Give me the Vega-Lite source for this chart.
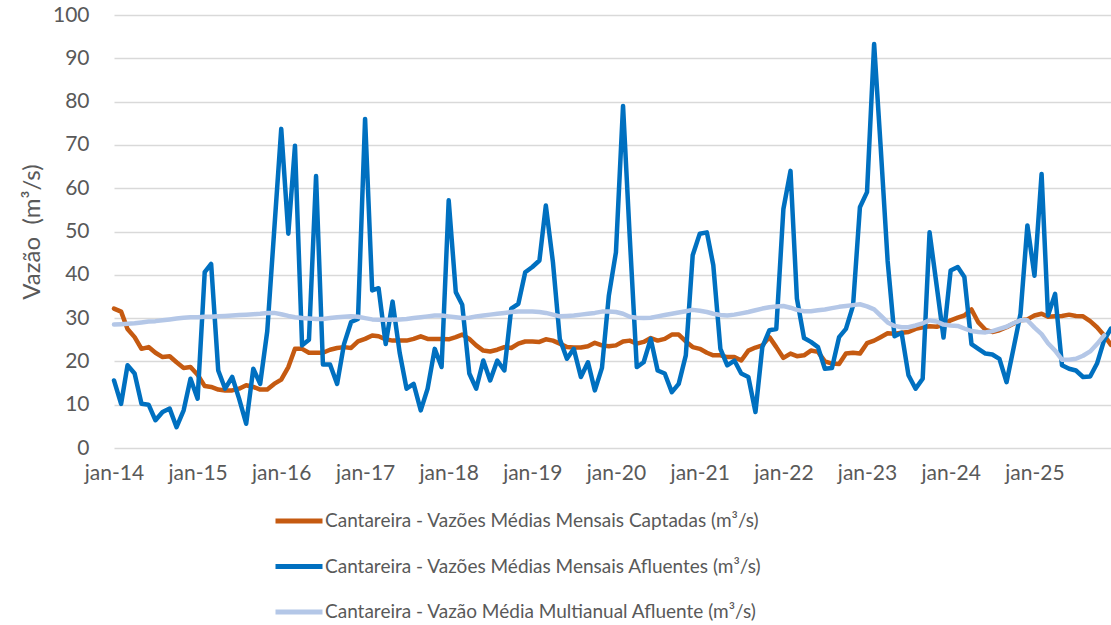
{
  "$schema": "https://vega.github.io/schema/vega-lite/v6.json",
  "width": 999,
  "height": 433,
  "autosize": {"type": "none"},
  "padding": {"left": 112, "top": 15, "right": 0, "bottom": 177},
  "background": "white",
  "config": {"view": {"stroke": null}, "font": "Lato"},
  "data": {"values": [
    {"m":"2014-01","cap":32.2,"afl":15.6,"mul":28.5},
    {"m":"2014-02","cap":31.5,"afl":10.2,"mul":28.6},
    {"m":"2014-03","cap":27.5,"afl":19.1,"mul":28.7},
    {"m":"2014-04","cap":25.6,"afl":17.2,"mul":28.8},
    {"m":"2014-05","cap":22.9,"afl":10.2,"mul":29.0},
    {"m":"2014-06","cap":23.3,"afl":10.0,"mul":29.2},
    {"m":"2014-07","cap":22.0,"afl":6.4,"mul":29.3},
    {"m":"2014-08","cap":21.0,"afl":8.3,"mul":29.5},
    {"m":"2014-09","cap":21.2,"afl":9.1,"mul":29.7},
    {"m":"2014-10","cap":19.8,"afl":4.8,"mul":29.9},
    {"m":"2014-11","cap":18.5,"afl":8.7,"mul":30.1},
    {"m":"2014-12","cap":18.7,"afl":16.0,"mul":30.2},
    {"m":"2015-01","cap":16.9,"afl":11.4,"mul":30.2},
    {"m":"2015-02","cap":14.3,"afl":40.6,"mul":30.3},
    {"m":"2015-03","cap":14.1,"afl":42.5,"mul":30.3},
    {"m":"2015-04","cap":13.5,"afl":17.9,"mul":30.4},
    {"m":"2015-05","cap":13.3,"afl":13.7,"mul":30.5},
    {"m":"2015-06","cap":13.3,"afl":16.4,"mul":30.6},
    {"m":"2015-07","cap":13.7,"afl":11.4,"mul":30.7},
    {"m":"2015-08","cap":14.5,"afl":5.6,"mul":30.8},
    {"m":"2015-09","cap":14.1,"afl":18.3,"mul":30.9},
    {"m":"2015-10","cap":13.5,"afl":14.8,"mul":31.0},
    {"m":"2015-11","cap":13.5,"afl":27.0,"mul":31.2},
    {"m":"2015-12","cap":14.8,"afl":50.0,"mul":31.2},
    {"m":"2016-01","cap":15.8,"afl":73.7,"mul":30.9},
    {"m":"2016-02","cap":18.7,"afl":49.5,"mul":30.5},
    {"m":"2016-03","cap":22.9,"afl":69.8,"mul":30.2},
    {"m":"2016-04","cap":22.9,"afl":23.7,"mul":30.0},
    {"m":"2016-05","cap":22.0,"afl":25.0,"mul":29.9},
    {"m":"2016-06","cap":22.0,"afl":62.8,"mul":29.8},
    {"m":"2016-07","cap":22.0,"afl":19.3,"mul":29.8},
    {"m":"2016-08","cap":22.7,"afl":19.3,"mul":30.0},
    {"m":"2016-09","cap":23.1,"afl":14.8,"mul":30.2},
    {"m":"2016-10","cap":23.3,"afl":24.0,"mul":30.3},
    {"m":"2016-11","cap":23.1,"afl":29.1,"mul":30.4},
    {"m":"2016-12","cap":24.6,"afl":29.8,"mul":30.3},
    {"m":"2017-01","cap":25.2,"afl":76.0,"mul":30.0},
    {"m":"2017-02","cap":26.0,"afl":36.4,"mul":29.7},
    {"m":"2017-03","cap":25.8,"afl":36.9,"mul":29.6},
    {"m":"2017-04","cap":25.1,"afl":24.0,"mul":29.6},
    {"m":"2017-05","cap":24.8,"afl":33.8,"mul":29.6},
    {"m":"2017-06","cap":24.8,"afl":22.0,"mul":29.7},
    {"m":"2017-07","cap":24.8,"afl":13.7,"mul":29.8},
    {"m":"2017-08","cap":25.2,"afl":14.8,"mul":30.0},
    {"m":"2017-09","cap":25.8,"afl":8.7,"mul":30.2},
    {"m":"2017-10","cap":25.2,"afl":13.7,"mul":30.4},
    {"m":"2017-11","cap":25.2,"afl":22.9,"mul":30.6},
    {"m":"2017-12","cap":25.2,"afl":18.7,"mul":30.6},
    {"m":"2018-01","cap":25.1,"afl":57.2,"mul":30.4},
    {"m":"2018-02","cap":25.6,"afl":36.0,"mul":30.2},
    {"m":"2018-03","cap":26.2,"afl":33.1,"mul":30.0},
    {"m":"2018-04","cap":25.2,"afl":17.2,"mul":30.1},
    {"m":"2018-05","cap":23.7,"afl":13.7,"mul":30.4},
    {"m":"2018-06","cap":22.5,"afl":20.2,"mul":30.6},
    {"m":"2018-07","cap":22.3,"afl":15.6,"mul":30.8},
    {"m":"2018-08","cap":22.7,"afl":20.2,"mul":31.0},
    {"m":"2018-09","cap":23.3,"afl":17.9,"mul":31.2},
    {"m":"2018-10","cap":23.1,"afl":32.2,"mul":31.4},
    {"m":"2018-11","cap":24.1,"afl":33.3,"mul":31.5},
    {"m":"2018-12","cap":24.6,"afl":40.6,"mul":31.5},
    {"m":"2019-01","cap":24.6,"afl":41.8,"mul":31.5},
    {"m":"2019-02","cap":24.5,"afl":43.3,"mul":31.4},
    {"m":"2019-03","cap":25.1,"afl":56.0,"mul":31.2},
    {"m":"2019-04","cap":24.8,"afl":42.9,"mul":30.8},
    {"m":"2019-05","cap":24.1,"afl":25.2,"mul":30.4},
    {"m":"2019-06","cap":23.3,"afl":20.6,"mul":30.5},
    {"m":"2019-07","cap":23.2,"afl":22.9,"mul":30.6},
    {"m":"2019-08","cap":23.2,"afl":16.4,"mul":30.8},
    {"m":"2019-09","cap":23.5,"afl":19.8,"mul":31.0},
    {"m":"2019-10","cap":24.3,"afl":13.3,"mul":31.2},
    {"m":"2019-11","cap":23.7,"afl":18.5,"mul":31.5},
    {"m":"2019-12","cap":23.5,"afl":35.2,"mul":31.5},
    {"m":"2020-01","cap":23.7,"afl":45.2,"mul":31.4},
    {"m":"2020-02","cap":24.6,"afl":79.0,"mul":31.0},
    {"m":"2020-03","cap":24.8,"afl":49.0,"mul":30.3},
    {"m":"2020-04","cap":24.1,"afl":18.7,"mul":30.1},
    {"m":"2020-05","cap":24.5,"afl":19.8,"mul":30.0},
    {"m":"2020-06","cap":25.4,"afl":25.2,"mul":30.1},
    {"m":"2020-07","cap":24.8,"afl":17.9,"mul":30.4},
    {"m":"2020-08","cap":25.2,"afl":17.2,"mul":30.7},
    {"m":"2020-09","cap":26.2,"afl":12.9,"mul":31.0},
    {"m":"2020-10","cap":26.2,"afl":14.8,"mul":31.3},
    {"m":"2020-11","cap":24.6,"afl":21.4,"mul":31.6},
    {"m":"2020-12","cap":23.3,"afl":44.5,"mul":31.9},
    {"m":"2021-01","cap":22.9,"afl":49.5,"mul":31.7},
    {"m":"2021-02","cap":22.0,"afl":49.8,"mul":31.4},
    {"m":"2021-03","cap":21.4,"afl":42.2,"mul":31.0},
    {"m":"2021-04","cap":21.4,"afl":22.9,"mul":30.7},
    {"m":"2021-05","cap":21.0,"afl":19.1,"mul":30.6},
    {"m":"2021-06","cap":21.0,"afl":20.2,"mul":30.8},
    {"m":"2021-07","cap":20.2,"afl":17.2,"mul":31.1},
    {"m":"2021-08","cap":22.5,"afl":16.4,"mul":31.4},
    {"m":"2021-09","cap":23.2,"afl":8.3,"mul":31.8},
    {"m":"2021-10","cap":23.7,"afl":23.3,"mul":32.2},
    {"m":"2021-11","cap":25.6,"afl":27.2,"mul":32.5},
    {"m":"2021-12","cap":23.3,"afl":27.5,"mul":32.7},
    {"m":"2022-01","cap":20.8,"afl":55.2,"mul":32.8},
    {"m":"2022-02","cap":21.8,"afl":64.0,"mul":32.4},
    {"m":"2022-03","cap":21.2,"afl":34.5,"mul":31.9},
    {"m":"2022-04","cap":21.4,"afl":25.4,"mul":31.6},
    {"m":"2022-05","cap":22.5,"afl":24.5,"mul":31.6},
    {"m":"2022-06","cap":22.2,"afl":23.3,"mul":31.8},
    {"m":"2022-07","cap":20.0,"afl":18.3,"mul":32.0},
    {"m":"2022-08","cap":19.5,"afl":18.5,"mul":32.3},
    {"m":"2022-09","cap":19.4,"afl":25.6,"mul":32.6},
    {"m":"2022-10","cap":21.8,"afl":27.5,"mul":32.8},
    {"m":"2022-11","cap":22.0,"afl":32.9,"mul":33.0},
    {"m":"2022-12","cap":21.8,"afl":55.6,"mul":33.2},
    {"m":"2023-01","cap":24.2,"afl":59.1,"mul":32.7},
    {"m":"2023-02","cap":24.8,"afl":93.3,"mul":32.0},
    {"m":"2023-03","cap":25.6,"afl":70.0,"mul":30.6},
    {"m":"2023-04","cap":26.5,"afl":43.2,"mul":29.0},
    {"m":"2023-05","cap":26.4,"afl":25.8,"mul":28.2},
    {"m":"2023-06","cap":26.6,"afl":26.6,"mul":27.9},
    {"m":"2023-07","cap":26.8,"afl":16.8,"mul":27.9},
    {"m":"2023-08","cap":27.5,"afl":13.7,"mul":28.3},
    {"m":"2023-09","cap":27.9,"afl":16.0,"mul":28.8},
    {"m":"2023-10","cap":28.1,"afl":49.8,"mul":29.5},
    {"m":"2023-11","cap":28.0,"afl":37.5,"mul":29.2},
    {"m":"2023-12","cap":28.5,"afl":25.5,"mul":28.5},
    {"m":"2024-01","cap":29.5,"afl":41.0,"mul":28.3},
    {"m":"2024-02","cap":30.1,"afl":41.8,"mul":28.2},
    {"m":"2024-03","cap":30.6,"afl":39.5,"mul":27.6},
    {"m":"2024-04","cap":32.0,"afl":24.0,"mul":27.0},
    {"m":"2024-05","cap":29.0,"afl":22.9,"mul":26.8},
    {"m":"2024-06","cap":27.3,"afl":21.8,"mul":26.7},
    {"m":"2024-07","cap":26.8,"afl":21.6,"mul":27.0},
    {"m":"2024-08","cap":27.2,"afl":20.6,"mul":27.5},
    {"m":"2024-09","cap":27.9,"afl":15.2,"mul":28.0},
    {"m":"2024-10","cap":28.7,"afl":22.9,"mul":28.8},
    {"m":"2024-11","cap":29.5,"afl":31.0,"mul":29.5},
    {"m":"2024-12","cap":29.7,"afl":51.4,"mul":29.5},
    {"m":"2025-01","cap":30.6,"afl":39.8,"mul":27.8},
    {"m":"2025-02","cap":31.0,"afl":63.3,"mul":26.3},
    {"m":"2025-03","cap":30.3,"afl":30.6,"mul":24.2},
    {"m":"2025-04","cap":30.4,"afl":35.6,"mul":22.5},
    {"m":"2025-05","cap":30.5,"afl":19.1,"mul":20.4},
    {"m":"2025-06","cap":30.8,"afl":18.3,"mul":20.4},
    {"m":"2025-07","cap":30.5,"afl":17.9,"mul":20.6},
    {"m":"2025-08","cap":30.4,"afl":16.4,"mul":21.3},
    {"m":"2025-09","cap":29.3,"afl":16.5,"mul":22.3},
    {"m":"2025-10","cap":27.9,"afl":19.5,"mul":24.0},
    {"m":"2025-11","cap":26.0,"afl":24.9,"mul":26.0},
    {"m":"2025-12","cap":23.8,"afl":27.6,"mul":null}
  ]},
  "transform": [{"fold": ["cap", "afl", "mul"], "as": ["serie", "valor"]}],
  "mark": {"type": "line", "strokeWidth": 4.5, "strokeJoin": "round", "strokeCap": "round"},
  "encoding": {
    "x": {
      "field": "m",
      "type": "temporal",
      "scale": {"type": "utc", "range": [2, 999], "nice": false},
      "axis": {
        "title": null,
        "tickCount": {"interval": "year", "step": 1},
        "labelExpr": "'jan-' + utcFormat(datum.value, '%y')",
        "grid": false,
        "domain": false,
        "ticks": false,
        "labelPadding": 14,
        "labelFontSize": 21,
        "labelColor": "#595959",
        "labelFlush": false,
        "labelOverlap": false
      }
    },
    "y": {
      "field": "valor",
      "type": "quantitative",
      "scale": {"domain": [0, 100], "nice": false},
      "axis": {
        "title": "Vazão\u00a0 (m³/s)",
        "values": [0, 10, 20, 30, 40, 50, 60, 70, 80, 90, 100],
        "grid": true,
        "gridColor": "#d9d9d9",
        "gridWidth": 1.3,
        "domain": false,
        "ticks": false,
        "labelPadding": 23,
        "labelFontSize": 21,
        "labelColor": "#595959",
        "titleFontSize": 24,
        "titleFontWeight": "normal",
        "titleColor": "#595959",
        "titlePadding": 8
      }
    },
    "color": {
      "field": "serie",
      "type": "nominal",
      "scale": {"domain": ["cap", "afl", "mul"], "range": ["#C55A11", "#0070C0", "#B4C7E7"]},
      "legend": {
        "orient": "none",
        "legendX": 161,
        "legendY": 480,
        "direction": "vertical",
        "title": null,
        "padding": 0,
        "symbolType": "stroke",
        "symbolSize": 2209,
        "symbolStrokeWidth": 5,
        "labelFontSize": 19,
        "labelColor": "#595959",
        "labelOffset": 0,
        "labelLimit": 1000,
        "rowPadding": 9.5,
        "labelExpr": "datum.value == 'cap' ? 'Cantareira - Vazões Médias Mensais Captadas (m³/s)' : datum.value == 'afl' ? '\u00a0Cantareira - Vazões Médias Mensais Afluentes (m³/s)' : 'Cantareira - Vazão Média Multianual Afluente (m³/s)'"
      }
    }
  }
}
